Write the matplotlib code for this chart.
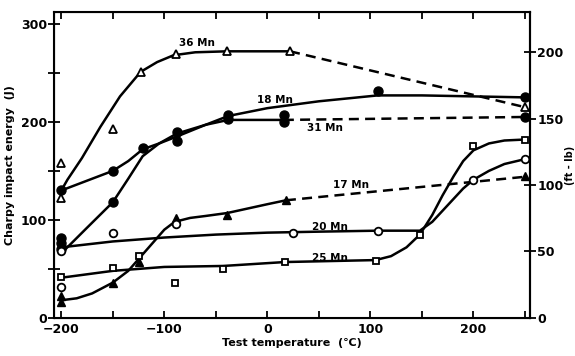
import numpy as np
import matplotlib
matplotlib.use('Agg')
import matplotlib.pyplot as plt

plt.rcParams['font.family'] = ['DejaVu Sans']
plt.rcParams['font.weight'] = 'bold'

J_PER_FTLB = 1.3558

# Hand-drawn trend curves (temperature C, energy J)
mn36_curve_x = [-200, -194, -180, -162, -143, -123, -107, -91, -70, -39, 0, 22]
mn36_curve_y = [130, 141, 163, 195, 226, 251, 261, 268, 271, 272, 272, 272]
mn36_dash_x = [22, 250]
mn36_dash_y = [272, 215]

mn18_curve_x = [-200, -150, -135, -121, -105, -88, -60, -38, 0, 50, 107, 150, 200, 250]
mn18_curve_y = [130, 150, 160, 172, 178, 185, 197, 206, 214, 221, 227, 227, 226, 225]

mn31_curve_x = [-196, -175, -150, -135, -121, -105, -88, -60, -38, 0, 16]
mn31_curve_y = [70, 92, 118, 142, 165, 178, 188, 197, 202, 202, 202]
mn31_dash_x = [16, 250]
mn31_dash_y = [202, 205]

mn17_curve_x = [-200, -185, -170, -150, -135, -125, -110, -100, -90, -75, -60, -39, 0, 18]
mn17_curve_y = [18, 20, 25, 36, 48, 60, 78, 90, 98, 102, 104, 107, 116, 120]
mn17_dash_x = [18, 250]
mn17_dash_y = [120, 144]

mn20_curve_x = [-200, -150, -100, -50, 0, 50, 107, 130, 148, 160, 175, 190, 200, 215, 230, 250]
mn20_curve_y = [72, 78, 82, 85, 87, 88, 89, 89, 89, 98, 115, 132, 141, 150, 157, 162]

mn25_curve_x = [-200, -150, -100, -43, 17, 105, 120, 135, 148, 160, 170, 181, 190, 200, 215, 230, 250]
mn25_curve_y = [41, 48, 52, 53, 57, 59, 63, 72, 85, 105, 125, 145, 160, 171, 178, 181, 182]

# Measured points
mn36_pts_x = [-200, -200, -150, -123, -89, -39, 22, 250]
mn36_pts_y = [158, 122, 193, 251, 269, 272, 272, 215]
mn18_pts_x = [-200, -150, -121, -88, -38, 107, 250]
mn18_pts_y = [130, 150, 173, 190, 207, 231, 225]
mn31_pts_x = [-200, -200, -200, -150, -88, -38, 16, 16, 250]
mn31_pts_y = [82, 76, 70, 118, 180, 203, 207, 200, 205]
mn17_pts_x = [-200, -200, -150, -125, -89, -39, 18, 250]
mn17_pts_y = [22, 16, 36, 57, 102, 105, 120, 145]
mn20_pts_x = [-200, -200, -150, -89, 25, 107, 200, 250]
mn20_pts_y = [68, 32, 87, 96, 87, 89, 141, 162]
mn25_pts_x = [-200, -150, -125, -90, -43, 17, 105, 148, 200, 250]
mn25_pts_y = [42, 51, 63, 36, 50, 57, 58, 85, 175, 182]

labels = ['36 Mn', '18 Mn', '31 Mn', '17 Mn', '20 Mn', '25 Mn']
label_x = [-68, 7, 56, 81, 61, 61]
label_y = [280, 222, 194, 136, 93, 61]

fig = plt.figure(figsize=(5.75, 3.56), dpi=100)
ax = fig.add_axes([0.094, 0.107, 0.828, 0.859])

lw = 1.8
k = 'black'
dash = (0, (4, 2.5))
ax.plot(mn36_curve_x, mn36_curve_y, color=k, lw=lw)
ax.plot(mn36_dash_x, mn36_dash_y, color=k, lw=lw, ls=dash)
ax.plot(mn18_curve_x, mn18_curve_y, color=k, lw=lw)
ax.plot(mn31_curve_x, mn31_curve_y, color=k, lw=lw)
ax.plot(mn31_dash_x, mn31_dash_y, color=k, lw=lw, ls=dash)
ax.plot(mn17_curve_x, mn17_curve_y, color=k, lw=lw)
ax.plot(mn17_dash_x, mn17_dash_y, color=k, lw=lw, ls=dash)
ax.plot(mn20_curve_x, mn20_curve_y, color=k, lw=lw)
ax.plot(mn25_curve_x, mn25_curve_y, color=k, lw=lw)

ms = 5.5
ax.plot(mn36_pts_x, mn36_pts_y, '^', ms=ms, mfc='white', mec=k, mew=1.3, ls='none')
ax.plot(mn18_pts_x, mn18_pts_y, 'o', ms=ms + 1, mfc=k, mec=k, ls='none')
ax.plot(mn31_pts_x, mn31_pts_y, 'o', ms=ms + 1, mfc=k, mec=k, ls='none')
ax.plot(mn17_pts_x, mn17_pts_y, '^', ms=ms, mfc=k, mec=k, ls='none')
ax.plot(mn20_pts_x, mn20_pts_y, 'o', ms=ms, mfc='white', mec=k, mew=1.3, ls='none')
ax.plot(mn25_pts_x, mn25_pts_y, 's', ms=ms - 0.5, mfc='white', mec=k, mew=1.3, ls='none')

for t, x, y in zip(labels, label_x, label_y):
    ax.text(x, y, t, ha='center', va='center', fontsize=7.5, fontweight='bold')

ax.set_xlim(-207, 255)
ax.set_ylim(0, 312)
ax.set_xticks([-200, -100, 0, 100, 200])
ax.set_xticks(np.arange(-200, 251, 50), minor=True)
ax.set_yticks([0, 100, 200, 300])
ax.set_yticks([50, 150, 250], minor=True)
ax.tick_params(axis='x', which='both', direction='in', top=True, length=5, width=1.3,
               labelsize=9, pad=4)
ax.tick_params(axis='y', which='both', direction='inout', length=8, width=1.3,
               labelsize=9, pad=1)
for lab in ax.get_xticklabels() + ax.get_yticklabels():
    lab.set_fontweight('bold')
for s in ax.spines.values():
    s.set_linewidth(1.5)

ax2 = ax.twinx()
ax2.set_ylim(0, 312 / J_PER_FTLB)
ax2.set_yticks([0, 50, 100, 150, 200])
ax2.tick_params(axis='y', direction='inout', length=8, width=1.3, labelsize=9, pad=1)
for lab in ax2.get_yticklabels():
    lab.set_fontweight('bold')
ax2.spines['right'].set_linewidth(1.5)

ax.set_xlabel('Test temperature  (\u2103)', fontsize=8, fontweight='bold', labelpad=1)
ax.set_ylabel('Charpy impact energy  (J)', fontsize=8, fontweight='bold', labelpad=4)
ax2.set_ylabel('(ft - lb)', fontsize=7, fontweight='bold', labelpad=1)

fig.savefig('out.png', dpi=100)
